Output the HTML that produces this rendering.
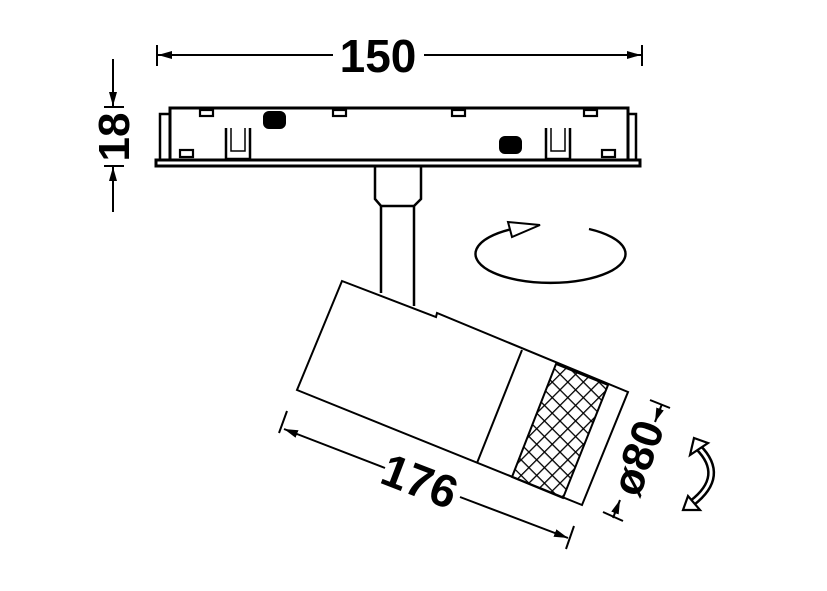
<!DOCTYPE html>
<html><head><meta charset="utf-8"><style>
html,body{margin:0;padding:0;background:#fff;}
svg{display:block;}
text{font-family:"Liberation Sans",sans-serif;font-weight:bold;fill:#000;}
</style></head><body>
<svg width="827" height="591" viewBox="0 0 827 591" xmlns="http://www.w3.org/2000/svg">
<defs>
<marker id="ar" viewBox="0 0 14 8" refX="14" refY="4" markerWidth="14" markerHeight="8" orient="auto" markerUnits="userSpaceOnUse">
<path d="M0,0 L14,4 L0,8 Z" fill="#000"/></marker>
<pattern id="mp" width="11" height="11" patternUnits="userSpaceOnUse" patternTransform="rotate(45)">
<line x1="0" y1="0" x2="0" y2="11" stroke="#000" stroke-width="2.6"/>
<line x1="0" y1="0" x2="11" y2="0" stroke="#000" stroke-width="2.6"/>
</pattern>
</defs>
<g stroke="#000" fill="none" stroke-width="2">
<line x1="157" y1="45" x2="157" y2="66"/>
<line x1="642" y1="45" x2="642" y2="66"/>
<line x1="333" y1="55" x2="158" y2="55" marker-end="url(#ar)"/>
<line x1="424" y1="55" x2="641" y2="55" marker-end="url(#ar)"/>
<line x1="113" y1="59" x2="113" y2="106" marker-end="url(#ar)"/>
<line x1="104" y1="107" x2="124" y2="107"/>
<line x1="104" y1="166" x2="124" y2="166"/>
<line x1="113" y1="212" x2="113" y2="167" marker-end="url(#ar)"/>
<rect x="156" y="160" width="484" height="6" stroke-width="3"/>
<rect x="170" y="108" width="458" height="52" stroke-width="3"/>
<polyline points="170,114 160,114 160,160" stroke-width="2.5"/>
<polyline points="628,114 636,114 636,160" stroke-width="2.5"/>
<rect x="200" y="110" width="13" height="6" stroke-width="2.2"/>
<rect x="333" y="110" width="13" height="6" stroke-width="2.2"/>
<rect x="452" y="110" width="13" height="6" stroke-width="2.2"/>
<rect x="584" y="110" width="13" height="6" stroke-width="2.2"/>
<rect x="180" y="150" width="13" height="7" stroke-width="2.2"/>
<rect x="602" y="150" width="13" height="7" stroke-width="2.2"/>
<rect x="264" y="112" width="21" height="16" rx="5" fill="#000"/>
<rect x="500" y="137" width="21" height="16" rx="5" fill="#000"/>
<polyline points="226,128 226,159 250,159 250,128" stroke-width="2.5"/>
<polyline points="231,128 231,151 245,151 245,128" stroke-width="1.5"/>
<polyline points="546,128 546,159 570,159 570,128" stroke-width="2.5"/>
<polyline points="551,128 551,151 565,151 565,128" stroke-width="1.5"/>
<polyline points="375,166 375,199 381,206 414,206 421,199 421,166" stroke-width="2.5"/>
<line x1="381" y1="206" x2="381" y2="293" stroke-width="2.5"/>
<line x1="414" y1="206" x2="414" y2="306" stroke-width="2.5"/>
<polygon points="342,281 436,317 437,313 628,392 582,505 297,390" fill="#fff"/>
<line x1="522" y1="350" x2="477" y2="463"/>
<polygon points="556,364 608,385 563,498 512,477" fill="url(#mp)"/>
</g>
<g stroke="#000" stroke-width="2" fill="none">
<line x1="287" y1="411" x2="279" y2="433"/>
<line x1="574" y1="526" x2="566" y2="549"/>
<line x1="385" y1="468" x2="284" y2="429" marker-end="url(#ar)"/>
<line x1="460" y1="497" x2="568" y2="538" marker-end="url(#ar)"/>
<line x1="650" y1="400" x2="670" y2="408"/>
<line x1="603" y1="512" x2="623" y2="521"/>
<line x1="662" y1="404" x2="655" y2="422" marker-end="url(#ar)"/>
<line x1="613" y1="518" x2="620" y2="500" marker-end="url(#ar)"/>
<path d="M589,229 A75,29 0 1 1 512,229" stroke-width="2.4"/>
<polygon points="508,222 512,237 540,225" fill="#fff" stroke-width="2"/>
<path d="M698,447 Q727,476 692,503" stroke="#000" stroke-width="8"/>
<path d="M698,447 Q727,476 692,503" stroke="#fff" stroke-width="3"/>
<polygon points="694,438 708,443 690,455" fill="#fff" stroke-width="2.2"/>
<polygon points="683,510 700,510 688,496" fill="#fff" stroke-width="2.2"/>
</g>
<text x="378" y="72" font-size="46" text-anchor="middle">150</text>
<text transform="translate(129,137) rotate(-90)" font-size="44" text-anchor="middle">18</text>
<text transform="translate(414,496) rotate(21)" font-size="46" text-anchor="middle">176</text>
<text transform="translate(652,463) rotate(-70)" font-size="44" text-anchor="middle">ø80</text>
</svg>
</body></html>
